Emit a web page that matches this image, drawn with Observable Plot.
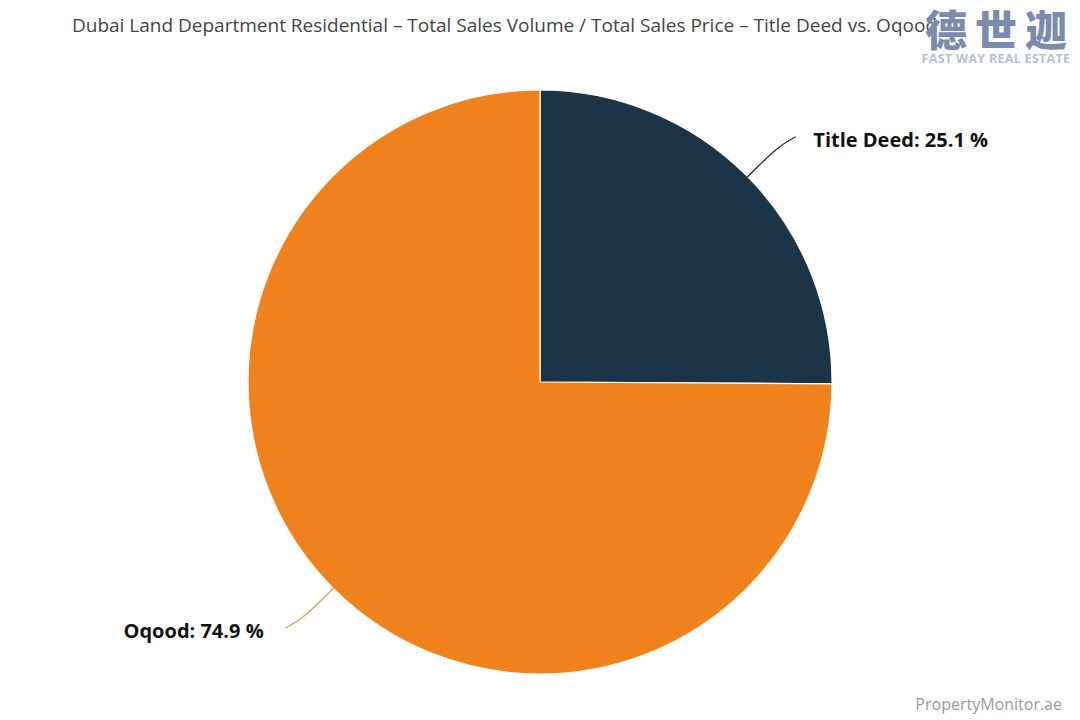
<!DOCTYPE html>
<html>
<head>
<meta charset="utf-8">
<script src="https://cdn.jsdelivr.net/npm/d3@7"></script>
<script src="https://cdn.jsdelivr.net/npm/@observablehq/plot@0.6"></script>
<style>
  html, body { margin: 0; padding: 0; background: #fff; }
  #wrap { position: relative; width: 1080px; height: 720px; overflow: hidden; }
  #title { position: absolute; left: 72px; top: 12px; font-family: "Liberation Sans Narrow", "Open Sans", sans-serif; font-size: 19px; color: #444; white-space: nowrap; }
  #logo { position: absolute; left: 918px; top: 6px; width: 156px; text-align: center; }
  #logo .cn { font-family: "Noto Sans CJK SC", sans-serif; font-weight: 900; font-size: 42px; color: #7b8bae; letter-spacing: 8px; line-height: 44px; margin-right: -8px; white-space: nowrap; }
  #logo .en { font-family: "Liberation Sans Narrow", "Open Sans", sans-serif; font-weight: bold; font-size: 12.5px; color: #b9c1d2; line-height: 13px; letter-spacing: 0.3px; margin-top: 2px; white-space: nowrap; }
  #credit { position: absolute; right: 18px; top: 693px; font-family: "Open Sans", sans-serif; font-size: 16px; color: #9a9a9a; }
</style>
</head>
<body>
<div id="wrap">
  <div id="chart"></div>
  <div id="title">Dubai Land Department Residential – Total Sales Volume / Total Sales Price – Title Deed vs. Oqood</div>
  <div id="logo"><div class="cn">德世迦</div><div class="en">FAST WAY REAL ESTATE</div></div>
  <div id="credit">PropertyMonitor.ae</div>
</div>
<script>
const categories = ["Title Deed", "Oqood"];
const shares = [25.1, 74.9];
const sliceColors = ["#1c3447", "#f0821e"];
const connectorColors = ["#2b2b2b", "#d9a067"];

const rows = categories.map((name, i) => ({name, share: shares[i], color: sliceColors[i], connector: connectorColors[i]}));
const arcs = d3.pie().sort(null).value(d => d.share).startAngle(0).endAngle(2 * Math.PI)(rows);

const W = 1080, H = 720, R = 292, CX = 540, CY = 382;

// connector points and label anchors (in unit-radius coordinates, y up)
const connectorPts = [];
const labels = [];
arcs.forEach(a => {
  const mid = (a.startAngle + a.endAngle) / 2;
  const ux = Math.sin(mid), uy = Math.cos(mid);
  const sx = Math.sign(ux), sy = Math.sign(uy);
  const E = [ux, uy];
  const C = [ux * 1.15, uy * 1.15];
  const L = [C[0] + sx * 0.057, C[1] + sy * 0.03];
  [E, C, L].forEach(p => connectorPts.push({name: a.data.name, x: p[0], y: p[1], stroke: a.data.connector}));
  const gap = sx > 0 ? 18 : 22;
  labels.push({
    name: a.data.name,
    x: L[0] + sx * gap / R,
    y: L[1] - 4 / R,
    side: sx > 0 ? "right" : "left",
    text: `${a.data.name}: ${a.data.share.toFixed(1)} %`
  });
});

function pieSlices(index, scales, values, dimensions) {
  const cx = scales.x(0), cy = scales.y(0);
  const r = scales.x(1) - scales.x(0);
  const arc = d3.arc().innerRadius(0).outerRadius(r);
  const g = d3.create("svg:g").attr("transform", `translate(${cx},${cy})`);
  g.selectAll("path").data(arcs).join("path")
    .attr("d", arc)
    .attr("fill", d => d.data.color)
    .attr("stroke", "#fffaf0")
    .attr("stroke-width", 1.2)
    .attr("stroke-linejoin", "round");
  return g.node();
}

const labelFont = {fontSize: 20, fontWeight: "bold", fontFamily: "'Open Sans', sans-serif", fill: "#111"};

const chart = Plot.plot({
  width: W,
  height: H,
  margin: 0,
  x: {domain: [-CX / R, (W - CX) / R], axis: null},
  y: {domain: [-(H - CY) / R, CY / R], axis: null},
  marks: [
    pieSlices,
    Plot.line(connectorPts, {x: "x", y: "y", z: "name", stroke: "stroke", strokeWidth: 1.3, curve: "basis"}),
    Plot.text(labels.filter(d => d.side === "right"), {x: "x", y: "y", text: "text", textAnchor: "start", ...labelFont}),
    Plot.text(labels.filter(d => d.side === "left"), {x: "x", y: "y", text: "text", textAnchor: "end", ...labelFont})
  ]
});
document.getElementById("chart").appendChild(chart);
</script>
</body>
</html>
